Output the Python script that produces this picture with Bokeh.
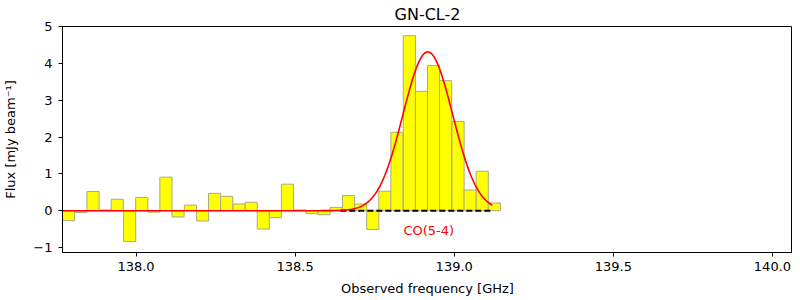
import numpy as np
from bokeh.plotting import figure
from bokeh.models import FixedTicker, PrintfTickFormatter, Label, Range1d
from bokeh.embed import file_html
from bokeh.resources import INLINE

freq = [137.788, 137.827, 137.865, 137.903, 137.941, 137.980, 138.018, 138.056,
        138.094, 138.132, 138.171, 138.209, 138.247, 138.285, 138.324, 138.362,
        138.400, 138.438, 138.476, 138.515, 138.553, 138.591, 138.629, 138.668,
        138.706, 138.744, 138.782, 138.820, 138.859, 138.897, 138.935, 138.973,
        139.012, 139.050, 139.088, 139.126]
flux = [-0.27, -0.05, 0.52, 0.02, 0.31, -0.84, 0.36, -0.04,
        0.91, -0.17, 0.15, -0.28, 0.47, 0.39, 0.18, 0.23,
        -0.50, -0.19, 0.72, 0.02, -0.08, -0.11, 0.09, 0.41,
        0.18, -0.51, 0.53, 2.13, 4.75, 3.24, 3.94, 3.53,
        2.42, 0.56, 1.07, 0.21]
chan_width = 0.0382

# Gaussian fit parameters
fit_amp = 4.31
fit_center = 138.917
fit_sigma = 0.078
fit_start = 137.770
fit_end = 139.120

line_start = 138.642
line_end = 139.115
line_label = "CO(5-4)"
label_x = 138.92
label_y = -0.53

x_ticks = [138.0, 138.5, 139.0, 139.5, 140.0]
y_ticks = [-1, 0, 1, 2, 3, 4, 5]

FONT = "DejaVu Sans"

p = figure(frame_width=730, frame_height=226, output_backend="svg", toolbar_location=None,
           x_range=Range1d(137.769, 140.063), y_range=Range1d(-1.135, 5.0),
           title="GN-CL-2", min_border_left=54, min_border_right=0,
           min_border_top=0, min_border_bottom=0)

p.title.align = "center"
p.title.text_font = FONT
p.title.text_font_size = "16px"
p.title.text_font_style = "normal"
p.title.text_color = "black"
p.title.standoff = 5

p.grid.visible = False
p.outline_line_color = "black"
p.outline_line_alpha = 1.0
p.outline_line_width = 1

for ax in (p.xaxis[0], p.yaxis[0]):
    ax.major_label_text_font = FONT
    ax.major_label_text_font_size = "13px"
    ax.major_label_text_color = "black"
    ax.axis_label_text_font = FONT
    ax.axis_label_text_font_size = "13px"
    ax.axis_label_text_font_style = "normal"
    ax.axis_label_text_color = "black"
    ax.major_tick_in = 0
    ax.major_tick_out = 4
    ax.minor_tick_in = 0
    ax.minor_tick_out = 0
    ax.axis_line_color = "black"
    ax.major_tick_line_color = "black"

p.xaxis.ticker = FixedTicker(ticks=x_ticks)
p.xaxis.formatter = PrintfTickFormatter(format="%.1f")
p.yaxis.ticker = FixedTicker(ticks=y_ticks)
p.xaxis.axis_label = "Observed frequency [GHz]"
p.yaxis.axis_label = "Flux [mJy beam\u207b\u00b9]"
p.xaxis.axis_label_standoff = 7
p.yaxis.axis_label_standoff = 12
p.xaxis.major_label_standoff = 5
p.yaxis.major_label_standoff = 6

p.vbar(x=freq, top=flux, bottom=0, width=chan_width, fill_color="yellow",
       line_color="#a9a98a", line_width=1)

p.line(x=[line_start, line_end], y=[0, 0], line_color="black",
       line_width=2, line_dash="6 3")

xs = np.linspace(fit_start, fit_end, 400)
ys = fit_amp * np.exp(-0.5 * ((xs - fit_center) / fit_sigma) ** 2)
p.line(x=xs, y=ys, line_color="red", line_width=1.6)

p.add_layout(Label(x=label_x, y=label_y, text=line_label, text_color="red",
                   text_font=FONT, text_font_size="13px",
                   text_align="center", text_baseline="middle"))

open("out.html", "w").write(file_html(p, INLINE))
